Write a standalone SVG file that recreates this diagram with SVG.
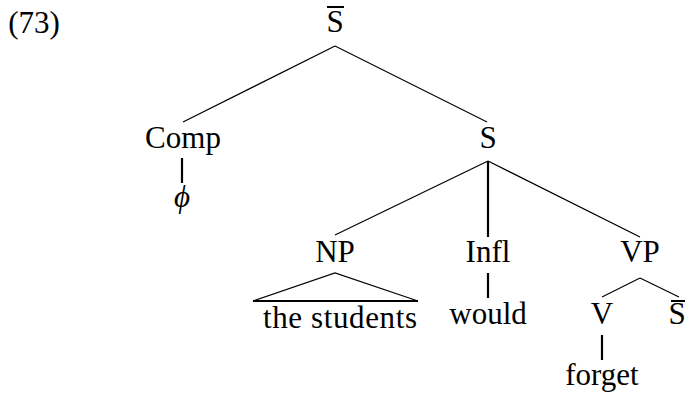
<svg xmlns="http://www.w3.org/2000/svg" width="685" height="393" viewBox="0 0 685 393">
<style>
text{font-family:'Liberation Serif','Times New Roman',serif;font-size:31px;fill:#000;text-anchor:middle}
.e{stroke:#000;stroke-width:1.2;fill:none}
.u{stroke:#000;stroke-width:2.2;fill:none}
.bar{stroke:#000;stroke-width:2}
</style>
<rect width="685" height="393" fill="#fff"/>
<text x="34" y="33" font-family="Liberation Serif, serif">(73)</text>
<g id="connectors">
<line class="e" x1="335" y1="46" x2="183" y2="122"/>
<line class="e" x1="335" y1="46" x2="487" y2="122"/>
<line class="u" x1="182" y1="158" x2="182" y2="183"/>
<line class="e" x1="488" y1="161" x2="335" y2="235"/>
<line class="u" x1="488" y1="161" x2="488" y2="237"/>
<line class="e" x1="488" y1="161" x2="640" y2="237"/>
<line class="u" x1="488" y1="273" x2="488" y2="298"/>
<line class="e" x1="640" y1="278" x2="602" y2="297"/>
<line class="e" x1="640" y1="278" x2="679" y2="297"/>
<line class="u" x1="602" y1="335" x2="602" y2="360"/>
</g>
<g id="Sbar"><line class="bar" x1="327" y1="7" x2="344" y2="7"/><text x="335" y="32">S</text></g>
<g id="Comp"><text x="183" y="148">Comp</text></g>
<g id="phi"><text x="182" y="207" font-style="italic">ϕ</text></g>
<g id="S"><text x="488" y="148">S</text></g>
<g id="NP"><text x="335" y="262">NP</text>
<path class="e" d="M253,301 L335,273 L418,301"/>
<line class="u" x1="253" y1="301" x2="418" y2="301"/></g>
<g id="the-students"><text x="340" y="328" textLength="154" lengthAdjust="spacing">the students</text></g>
<g id="Infl"><text x="488" y="262">Infl</text></g>
<g id="would"><text x="488" y="324">would</text></g>
<g id="VP"><text x="640" y="262">VP</text></g>
<g id="V"><text x="602" y="324">V</text></g>
<g id="Sbar2"><line class="bar" x1="671" y1="301" x2="685" y2="301"/><text x="677" y="324">S</text></g>
<g id="forget"><text x="602" y="385">forget</text></g>
</svg>
